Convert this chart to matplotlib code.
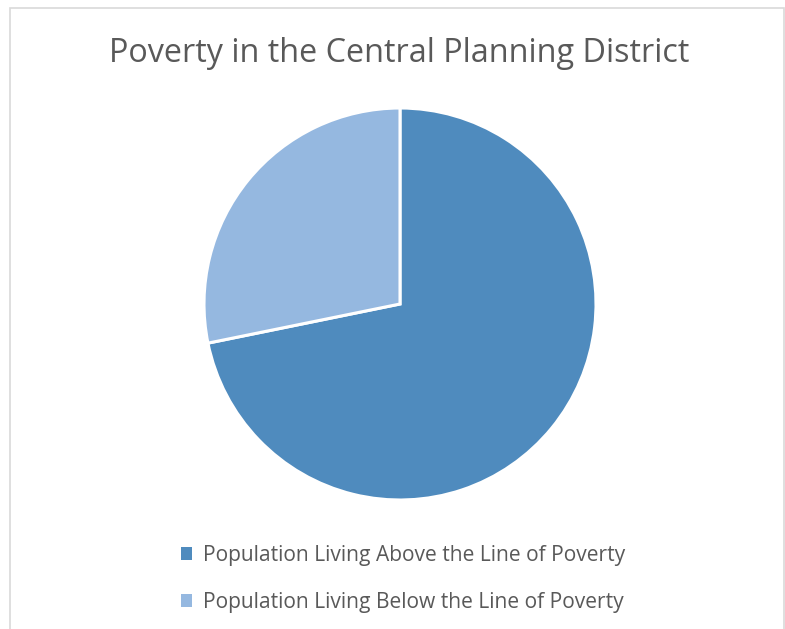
# Poverty in the Central Planning District - pie chart

import matplotlib.pyplot as plt
from matplotlib.patches import Rectangle

labels = ["Population Living Above the Line of Poverty",
          "Population Living Below the Line of Poverty"]
shares = [71.8, 28.2]
colors = ["#4F8BBE", "#95B8E0"]

fig = plt.figure(figsize=(7.85, 6.29), dpi=100)
fig.patch.set_facecolor("white")

# light chart-area border
fig.patches.append(Rectangle((10 / 785, -0.05), 774 / 785, 1.05 - 8 / 629,
                             transform=fig.transFigure, fill=False,
                             edgecolor="#D9D9D9", linewidth=1.2))

ax = fig.add_axes([204 / 785, 129 / 629, 392 / 785, 392 / 629])
wedges, _ = ax.pie(shares, colors=colors, startangle=90, counterclock=False,
                   radius=1, wedgeprops=dict(edgecolor="white", linewidth=2.2))
ax.set_xlim(-1.0, 1.0)
ax.set_ylim(-1.0, 1.0)
ax.set_aspect("equal")
ax.axis("off")

fig.text(399 / 785, 1 - 54 / 629, "Poverty in the Central Planning District",
         ha="center", va="center", fontsize=23.3, color="#595959",
         family="Open Sans")

leg = fig.legend(wedges, labels, loc="upper left",
                 bbox_to_anchor=(162 / 785, 1 - 526 / 629), frameon=False,
                 handlelength=0.55, handleheight=0.55, handletextpad=0.5,
                 labelspacing=1.25, labelcolor="#595959",
                 prop={"family": "Open Sans", "size": 15.1})
for h in leg.legend_handles:
    h.set_edgecolor("none")

fig.savefig("out.png", dpi=100)
